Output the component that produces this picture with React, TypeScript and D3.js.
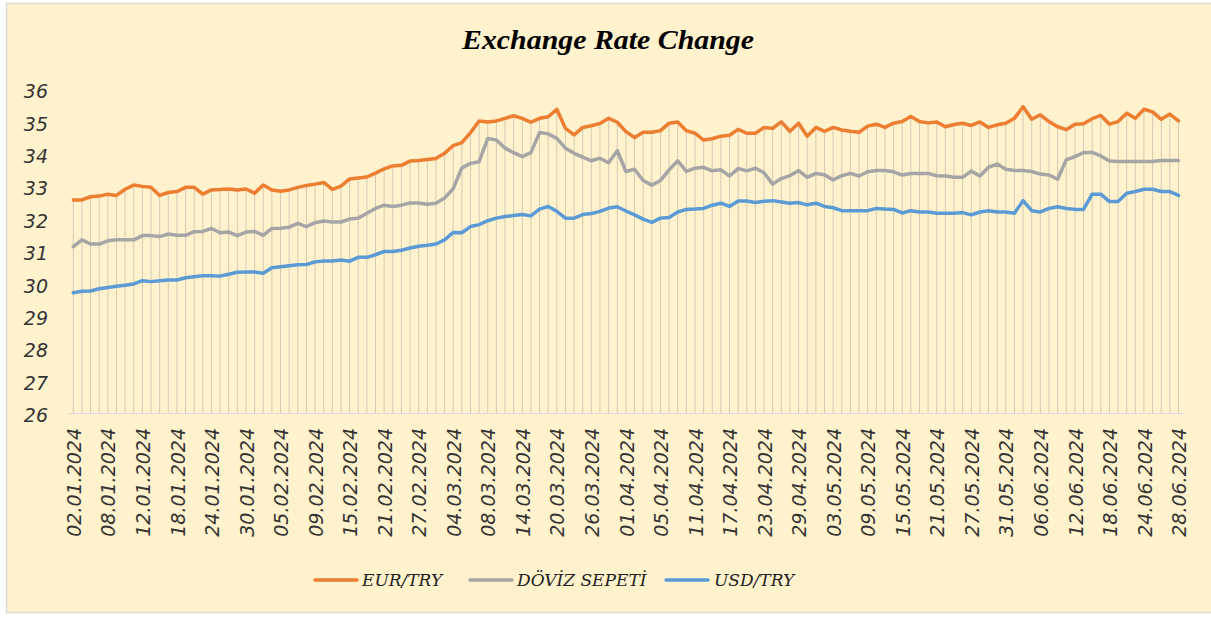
import React from "react";
import * as d3 from "d3";

const tickLabels = ["02.01.2024","08.01.2024","12.01.2024","18.01.2024","24.01.2024","30.01.2024","05.02.2024","09.02.2024","15.02.2024","21.02.2024","27.02.2024","04.03.2024","08.03.2024","14.03.2024","20.03.2024","26.03.2024","01.04.2024","05.04.2024","11.04.2024","17.04.2024","23.04.2024","29.04.2024","03.05.2024","09.05.2024","15.05.2024","21.05.2024","27.05.2024","31.05.2024","06.06.2024","12.06.2024","18.06.2024","24.06.2024","28.06.2024"];
const tickStep = 4;

const eurTry = [32.59,32.59,32.69,32.71,32.77,32.73,32.92,33.05,33.01,32.98,
32.73,32.82,32.85,32.98,32.98,32.77,32.90,32.91,32.93,32.90,
32.93,32.80,33.05,32.90,32.86,32.90,32.98,33.04,33.08,33.13,
32.92,33.02,33.24,33.27,33.30,33.42,33.55,33.64,33.66,33.79,
33.81,33.84,33.87,34.03,34.27,34.36,34.67,35.03,35.00,35.03,
35.11,35.19,35.11,34.99,35.11,35.16,35.39,34.80,34.60,34.83,
34.88,34.95,35.11,34.99,34.70,34.52,34.68,34.68,34.73,34.96,
35.00,34.73,34.65,34.44,34.48,34.56,34.59,34.77,34.65,34.65,
34.83,34.80,35.00,34.71,34.96,34.56,34.83,34.71,34.83,34.75,
34.71,34.68,34.87,34.93,34.83,34.96,35.01,35.17,35.01,34.97,
35.00,34.85,34.92,34.96,34.89,35.00,34.83,34.91,34.96,35.11,
35.47,35.08,35.22,35.01,34.85,34.76,34.93,34.94,35.10,35.20,
34.93,35.01,35.27,35.11,35.39,35.31,35.08,35.24,35.03];

const dovizSepeti = [31.15,31.36,31.23,31.23,31.33,31.36,31.36,31.36,31.49,31.49,
31.46,31.54,31.50,31.50,31.61,31.62,31.71,31.58,31.60,31.49,
31.60,31.62,31.50,31.71,31.72,31.75,31.87,31.77,31.89,31.94,
31.91,31.91,32.00,32.03,32.18,32.33,32.43,32.39,32.43,32.50,
32.50,32.46,32.49,32.65,32.94,33.58,33.72,33.77,34.49,34.44,
34.19,34.05,33.93,34.05,34.67,34.63,34.49,34.19,34.03,33.91,
33.80,33.88,33.74,34.11,33.47,33.54,33.19,33.05,33.19,33.52,
33.80,33.47,33.57,33.60,33.49,33.52,33.33,33.56,33.49,33.57,
33.43,33.08,33.25,33.34,33.50,33.29,33.41,33.37,33.21,33.34,
33.41,33.33,33.46,33.50,33.50,33.46,33.36,33.41,33.41,33.41,
33.34,33.33,33.29,33.29,33.48,33.33,33.60,33.70,33.54,33.50,
33.50,33.47,33.39,33.36,33.23,33.83,33.93,34.05,34.06,33.95,
33.79,33.78,33.78,33.78,33.78,33.78,33.81,33.81,33.81];

const usdTry = [29.73,29.77,29.78,29.85,29.89,29.93,29.96,30.00,30.10,30.07,
30.10,30.12,30.12,30.19,30.22,30.25,30.25,30.24,30.30,30.36,
30.37,30.37,30.33,30.50,30.53,30.56,30.59,30.60,30.68,30.71,
30.71,30.74,30.70,30.82,30.82,30.90,31.00,31.00,31.04,31.11,
31.16,31.19,31.23,31.36,31.59,31.58,31.77,31.83,31.95,32.03,
32.08,32.11,32.14,32.10,32.31,32.39,32.24,32.03,32.03,32.14,
32.17,32.24,32.34,32.38,32.25,32.13,32.00,31.90,32.03,32.05,
32.22,32.30,32.31,32.33,32.43,32.49,32.39,32.56,32.56,32.51,
32.55,32.57,32.53,32.49,32.51,32.44,32.49,32.39,32.35,32.26,
32.26,32.26,32.26,32.33,32.31,32.30,32.19,32.26,32.22,32.22,
32.18,32.18,32.18,32.20,32.13,32.22,32.26,32.22,32.22,32.18,
32.57,32.26,32.22,32.33,32.38,32.33,32.30,32.30,32.77,32.77,
32.54,32.54,32.80,32.85,32.92,32.92,32.85,32.85,32.73];

const yTicks = [26, 27, 28, 29, 30, 31, 32, 33, 34, 35, 36];

const seriesNames = ["EUR/TRY", "DÖVİZ SEPETİ", "USD/TRY"];
const seriesColors = ["#ED7D31", "#A5A5A5", "#5B9BD5"];

export default function App() {
  const W = 1211, H = 617;
  const series = [eurTry, dovizSepeti, usdTry];
  const n = eurTry.length;
  const idx = d3.range(n);
  const x = d3.scalePoint<number>().domain(idx).range([73.3, 1178.5]);
  const y = d3.scaleLinear().domain([26, 36]).range([413.5, 89.5]);
  const line = d3.line<number>().x((_, i) => x(i) as number).y((d) => y(d));
  const tickFont = "'DejaVu Sans', Verdana, sans-serif";
  const legendFont = "'DejaVu Serif', serif";

  const legendItems = [
    { lx: 315, tx: 362 },
    { lx: 470, tx: 517 },
    { lx: 666, tx: 714 },
  ];

  return (
    <svg width={W} height={H} style={{ position: "absolute", left: 0, top: 0 }}>
      <rect x={6.5} y={3.5} width={1210} height={609} fill="#FFF2CC" stroke="#D9D9D9" strokeWidth={1.5} />
      <text x={608} y={49} textAnchor="middle" fontFamily="'Liberation Serif', 'Times New Roman', serif"
        fontWeight="bold" fontStyle="italic" fontSize={28} textLength={292} lengthAdjust="spacingAndGlyphs" fill="#000">
        Exchange Rate Change
      </text>
      {idx.map((i) => {
        const top = d3.max(series, (s) => s[i]) as number;
        return (
          <line key={"d" + i} x1={x(i)} x2={x(i)} y1={y(top)} y2={y(26)} stroke="#D3CBB6" strokeWidth={1} />
        );
      })}
      <line x1={69} x2={1183} y1={y(26)} y2={y(26)} stroke="#D9D9D9" strokeWidth={1.2} />
      {yTicks.map((t) => (
        <text key={"y" + t} x={48} y={y(t) + 2} dy="0.35em" textAnchor="end" fontFamily={tickFont}
          fontStyle="italic" fontSize={19} fill="#333">
          {t}
        </text>
      ))}
      {tickLabels.map((lab, k) => {
        const xi = x(k * tickStep) as number;
        return (
          <text key={"x" + k} transform={`translate(${xi + 1},428) rotate(-90)`} dy="0.35em" textAnchor="end"
            fontFamily={tickFont} fontStyle="italic" fontSize={19} fill="#333">
            {lab}
          </text>
        );
      })}
      {series.map((s, si) => (
        <path key={"s" + si} d={line(s) as string} fill="none" stroke={seriesColors[si]} strokeWidth={3.5}
          strokeLinejoin="round" strokeLinecap="round" />
      ))}
      {legendItems.map((it, si) => (
        <g key={"l" + si}>
          <line x1={it.lx} x2={it.lx + 42} y1={580} y2={580} stroke={seriesColors[si]} strokeWidth={3.5} strokeLinecap="round" />
          <text x={it.tx} y={580} dy="0.35em" fontFamily={legendFont} fontStyle="italic" fontSize={17} fill="#222">
            {seriesNames[si]}
          </text>
        </g>
      ))}
    </svg>
  );
}
